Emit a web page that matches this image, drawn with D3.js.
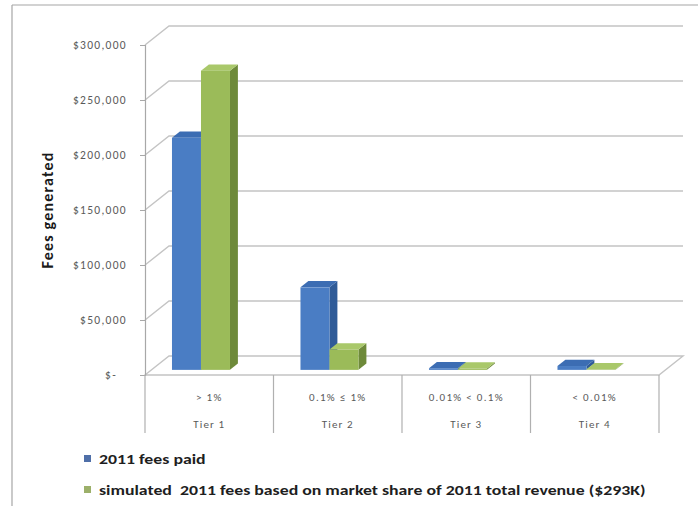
<!DOCTYPE html>
<html>
<head>
<meta charset="utf-8">
<script src="https://cdn.jsdelivr.net/npm/d3@7"></script>
<style>
  html, body { margin: 0; padding: 0; background: #fff; }
  svg { display: block; }
  text { font-family: Carlito, Lato, "Liberation Sans", sans-serif; }
</style>
</head>
<body>
<svg id="chart" width="698" height="506"></svg>
<script>
// ---- data ----
const tiers = ["Tier 1", "Tier 2", "Tier 3", "Tier 4"];
const shareRanges = ["> 1%", "0.1% \u2264 1%", "0.01% < 0.1%", "< 0.01%"];
const seriesNames = [
  "2011 fees paid",
  "simulated  2011 fees based on market share of 2011 total revenue ($293K)"
];
const feesPaid = [211000, 75000, 1500, 3500];
const feesSimulated = [272000, 18500, 1200, 500];
const yTicks = [0, 50000, 100000, 150000, 200000, 250000, 300000];
const yTickLabels = ["$-", "$50,000", "$100,000", "$150,000", "$200,000", "$250,000", "$300,000"];

const seriesValues = [feesPaid, feesSimulated];

// ---- styling ----
const faceColors = [
  { front: "#4A7DC4", side: "#2F5B98", top: "#3C6DB3", legend: "#4F6FA8" },
  { front: "#9BBB59", side: "#6E8A3A", top: "#A9C86A", legend: "#9CB06A" }
];
const gridColor = "#C4C4C4";
const labelColor = "#595959";

// ---- geometry ----
const svg = d3.select("#chart");
const floorLeft = 145, floorRight = 659, floorFrontY = 375;
const depth = { dx: 24, dy: -19 };
const barFront = 0.27, barBack = 0.6;   // depth fractions of the bar faces

const y = d3.scaleLinear().domain([0, 300000]).range([floorFrontY, 45]);
const x = d3.scaleBand().domain(tiers).range([floorLeft, floorRight]);
const inner = d3.scaleBand().domain(d3.range(seriesNames.length)).range([20.5, 78.5]);

// offset a point into the depth of the plot
const off = f => [depth.dx * f, depth.dy * f];

// outer chart frame
svg.append("line").attr("x1", 12).attr("y1", 5).attr("x2", 12).attr("y2", 506)
  .attr("stroke", "#A6A6A6").attr("stroke-width", 1.2);
svg.append("line").attr("x1", 12).attr("y1", 5).attr("x2", 698).attr("y2", 5)
  .attr("stroke", "#A6A6A6").attr("stroke-width", 1.2);

// back wall gridlines with their side-wall diagonals
const grid = svg.append("g").attr("fill", "none").attr("stroke", gridColor).attr("stroke-width", 1.4);
yTicks.forEach(t => {
  if (t === 0) return;
  const yy = y(t);
  grid.append("path").attr("d", d3.line()([
    [floorLeft, yy],
    [floorLeft + depth.dx, yy + depth.dy],
    [floorRight + depth.dx, yy + depth.dy]
  ]));
});

// floor
svg.append("path")
  .attr("d", d3.line()([
    [floorLeft, floorFrontY], [floorRight, floorFrontY],
    [floorRight + depth.dx, floorFrontY + depth.dy],
    [floorLeft + depth.dx, floorFrontY + depth.dy]
  ]) + "Z")
  .attr("fill", "none").attr("stroke", gridColor).attr("stroke-width", 1.4);

// value axis
const yAxis = d3.axisLeft(y)
  .tickValues(yTicks)
  .tickFormat((d, i) => yTickLabels[i])
  .tickSize(5)
  .tickPadding(13);
const yg = svg.append("g").attr("transform", `translate(${floorLeft},0)`).call(yAxis);
yg.select(".domain").attr("stroke", "#A8A8A8").attr("stroke-width", 1.2);
yg.selectAll(".tick line").attr("stroke", "#A8A8A8");
yg.selectAll(".tick text")
  .attr("fill", labelColor)
  .style("font-size", "11.5px")
  .style("letter-spacing", "1.3px")
  .attr("dx", d => d === 0 ? -10 : 0);

// axis title
svg.append("text")
  .attr("transform", "translate(53,210) rotate(-90)")
  .attr("text-anchor", "middle")
  .style("font-size", "16px")
  .style("font-weight", "600")
  .style("letter-spacing", "1.2px")
  .attr("fill", "#1A1A1A")
  .text("Fees generated");

// category table under the floor
const catBounds = tiers.map(t => x(t)).concat([floorRight]);
svg.append("g").selectAll("line").data(catBounds).join("line")
  .attr("x1", d => d).attr("x2", d => d)
  .attr("y1", floorFrontY).attr("y2", 433)
  .attr("stroke", "#B0B0B0").attr("stroke-width", 1.2);

const catLabels = svg.append("g").attr("fill", labelColor).style("font-size", "11px")
  .attr("text-anchor", "middle");
catLabels.selectAll("text.range").data(tiers).join("text")
  .attr("class", "range")
  .attr("x", d => x(d) + x.bandwidth() / 2)
  .attr("y", 401)
  .style("letter-spacing", "1.3px")
  .text((d, i) => shareRanges[i]);
catLabels.selectAll("text.tier").data(tiers).join("text")
  .attr("class", "tier")
  .attr("x", d => x(d) + x.bandwidth() / 2)
  .attr("y", 428)
  .style("letter-spacing", "1.1px")
  .text(d => d);

// 3D bars
const bars = svg.append("g");
const [fx, fy] = off(barFront);
const [bx, by] = off(barBack);
const sdx = bx - fx, sdy = by - fy;
tiers.forEach((tier, ci) => {
  seriesValues.forEach((vals, si) => {
    const v = vals[ci];
    const c = faceColors[si];
    const left = x(tier) + inner(si) + fx;
    const right = left + inner.bandwidth();
    const bottom = floorFrontY + fy;
    const top = y(v) + fy;
    const g = bars.append("g");
    // right side face
    g.append("path").attr("d", d3.line()([
      [right, bottom], [right, top], [right + sdx, top + sdy], [right + sdx, bottom + sdy]
    ]) + "Z").attr("fill", c.side);
    // top face
    g.append("path").attr("d", d3.line()([
      [left, top], [right, top], [right + sdx, top + sdy], [left + sdx, top + sdy]
    ]) + "Z").attr("fill", c.top);
    // front face
    g.append("rect")
      .attr("x", left).attr("y", top)
      .attr("width", inner.bandwidth()).attr("height", Math.max(0, bottom - top))
      .attr("fill", c.front);
  });
});

// legend
const legend = svg.append("g");
const legendRows = [459, 490];
seriesNames.forEach((name, i) => {
  legend.append("rect")
    .attr("x", 84).attr("y", legendRows[i] - 4)
    .attr("width", 7).attr("height", 7)
    .attr("fill", faceColors[i].legend);
  legend.append("text")
    .attr("transform", `translate(99,${legendRows[i] + 5}) scale(1.27,1)`)
    .style("font-size", "14px")
    .style("font-weight", "600")
    .attr("fill", "#1E1E1E")
    .attr("xml:space", "preserve")
    .style("white-space", "pre")
    .text(name);
});
</script>
</body>
</html>
